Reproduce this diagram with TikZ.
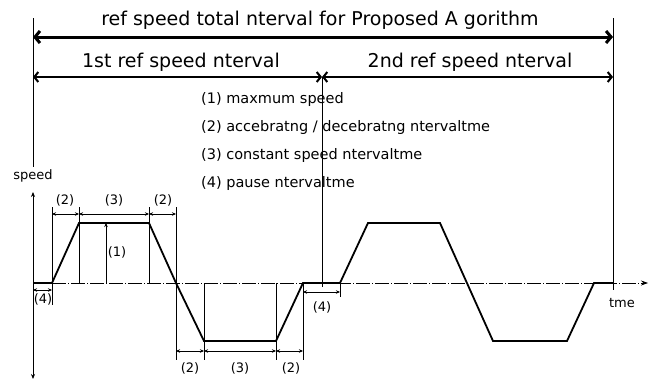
\documentclass[tikz,border=0pt]{standalone}
\usepackage{fontspec}
\setmainfont{DejaVu Sans}
\usetikzlibrary{arrows.meta}
\begin{document}
\begin{tikzpicture}[x=1pt,y=-1pt,
  sig/.style={line width=1.8pt,line join=miter},
  ext/.style={line width=0.7pt},
  dimar/.style={line width=0.7pt,{Stealth[length=4pt,width=3.5pt]}-{Stealth[length=4pt,width=3.5pt]}},
  onear/.style={line width=0.8pt,-{Stealth[length=4pt,width=3.5pt]}},
  bigar/.style={line width=3pt,{Straight Barb[length=5pt,width=12pt]}-{Straight Barb[length=5pt,width=12pt]}},
  midar/.style={line width=2pt,{Straight Barb[length=4pt,width=10pt]}-{Straight Barb[length=4pt,width=10pt]}},
  axis/.style={line width=0.8pt},
  zero/.style={line width=0.7pt,dash pattern=on 14pt off 2pt on 1pt off 2pt},
  lbl/.style={inner sep=0pt,font=\fontsize{13}{15}\selectfont},
  small/.style={inner sep=0pt,font=\fontsize{13}{15}\selectfont},
  leg/.style={inner sep=0pt,anchor=west,font=\fontsize{14.5}{17}\selectfont},
  hdr/.style={inner sep=0pt,font=\fontsize{19}{22}\selectfont},
]
\fill[white] (0,0) rectangle (651,383);
\useasboundingbox (0,0) rectangle (651,383);

% frame coordinates
\coordinate (LT) at (33,18);
\coordinate (LB) at (33,167);
\coordinate (RT) at (613,18);
\coordinate (RB) at (613,290);
\coordinate (A1) at (33,37);
\coordinate (A2) at (613,37);
\coordinate (B1) at (33,77);
\coordinate (BM) at (322,77);
\coordinate (B2) at (613,77);
\coordinate (MB) at (322,287);
\coordinate (Vtop) at (33,192);
\coordinate (Vbot) at (33,379);
\coordinate (O) at (33,283);
\coordinate (Tend) at (648,283);

% signal points
\coordinate (p0) at (33,283);
\coordinate (p1) at (52,283);
\coordinate (p2) at (79,223);
\coordinate (p3) at (149,223);
\coordinate (p4) at (176,283);
\coordinate (p5) at (204,341);
\coordinate (p6) at (276,341);
\coordinate (p7) at (303,283);
\coordinate (p8) at (340,283);
\coordinate (p9) at (368,223);
\coordinate (p10) at (440,223);
\coordinate (p11) at (493,341);
\coordinate (p12) at (567,341);
\coordinate (p13) at (594,283);
\coordinate (p14) at (613,283);

% texts
\node[hdr] (title) at (320,20) {ref speed total nterval for Proposed A gorithm};
\node[hdr] (first) at (181,62) {1st ref speed nterval};
\node[hdr] (second) at (470,62) {2nd ref speed nterval};
\node[leg] (l1) at (201,99) {(1) maxmum speed};
\node[leg] (l2) at (201,127) {(2) accebratng / decebratng ntervaltme};
\node[leg] (l3) at (201,155) {(3) constant speed ntervaltme};
\node[leg] (l4) at (201,183) {(4) pause ntervaltme};
\node[small] (spd) at (33,176) {speed};
\node[small] (tme) at (622,303) {tme};

% frame lines
\draw[ext] (LT) -- (LB);
\draw[ext] (RT) -- (RB);
\draw[ext] (BM) -- (MB);
\draw[bigar] (A1) -- (A2);
\draw[midar] (B1) -- (BM);
\draw[midar] (BM) -- (B2);

% axes
\draw[axis,{Stealth[length=5pt,width=4pt]}-{Stealth[length=5pt,width=4pt]}] (Vtop) -- (Vbot);
\draw[zero,-{Stealth[length=7pt,width=5pt]}] (O) -- (Tend);

% signal
\draw[sig] (p0) -- (p1) -- (p2) -- (p3) -- (p4) -- (p5) -- (p6) -- (p7) -- (p8)
  -- (p9) -- (p10) -- (p11) -- (p12) -- (p13) -- (p14);

% extension lines (upper)
\coordinate (e1t) at (52,207);  \coordinate (e1b) at (52,305);
\coordinate (e2t) at (79,207);  \coordinate (e2b) at (79,283);
\coordinate (e3t) at (149,207); \coordinate (e3b) at (149,283);
\coordinate (e4t) at (176,207); \coordinate (e4b) at (176,360);
\draw[ext] (e1t) -- (e1b);
\draw[ext] (e2t) -- (e2b);
\draw[ext] (e3t) -- (e3b);
\draw[ext] (e4t) -- (e4b);
% upper dimensions
\coordinate (d1) at (52,214);
\coordinate (d2) at (79,214);
\coordinate (d3) at (149,214);
\coordinate (d4) at (176,214);
\draw[dimar] (d1) -- (d2);
\draw[dimar] (d2) -- (d3);
\draw[dimar] (d3) -- (d4);
\node[lbl] (u1) at (65,200) {(2)};
\node[lbl] (u2) at (114,200) {(3)};
\node[lbl] (u3) at (163,200) {(2)};
% max speed
\coordinate (m0) at (106,283);
\coordinate (m1) at (106,223);
\draw[onear] (m0) -- (m1);
\node[lbl] (mx) at (117,252) {(1)};
% left pause
\coordinate (q0) at (33,290);
\coordinate (q1) at (52,290);
\draw[dimar] (q0) -- (q1);
\node[lbl] (pz1) at (43,299) {(4)};

% lower extension lines
\coordinate (f1t) at (204,283); \coordinate (f1b) at (204,360);
\coordinate (f2t) at (276,283); \coordinate (f2b) at (276,360);
\coordinate (f3t) at (303,283); \coordinate (f3b) at (303,360);
\draw[ext] (f1t) -- (f1b);
\draw[ext] (f2t) -- (f2b);
\draw[ext] (f3t) -- (f3b);
\coordinate (g1) at (176,351);
\coordinate (g2) at (204,351);
\coordinate (g3) at (276,351);
\coordinate (g4) at (303,351);
\draw[dimar] (g1) -- (g2);
\draw[dimar] (g2) -- (g3);
\draw[dimar] (g3) -- (g4);
\node[lbl] (w1) at (190,368) {(2)};
\node[lbl] (w2) at (240,368) {(3)};
\node[lbl] (w3) at (291,368) {(2)};

% right pause
\coordinate (r0) at (303,292);
\coordinate (r1) at (340,292);
\coordinate (r1t) at (340,283);
\coordinate (r1b) at (340,297);
\draw[ext] (r1t) -- (r1b);
\draw[dimar] (r0) -- (r1);
\node[lbl] (pz2) at (322,307) {(4)};
\end{tikzpicture}
\end{document}
